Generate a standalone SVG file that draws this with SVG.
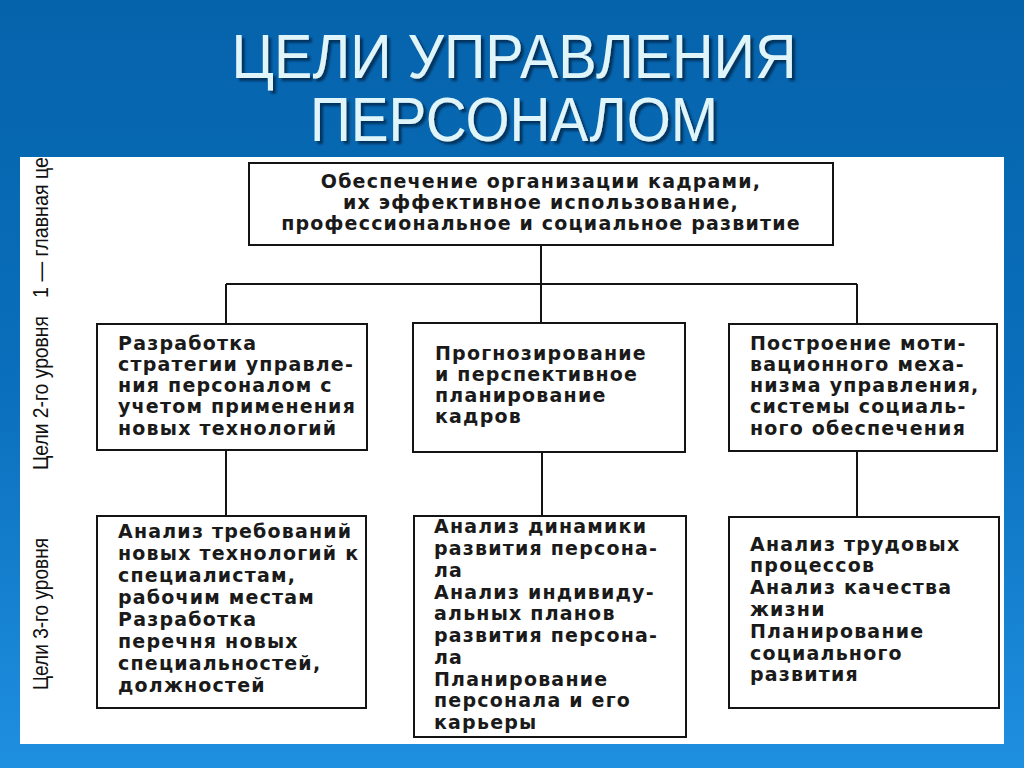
<svg xmlns="http://www.w3.org/2000/svg" width="1024" height="768" viewBox="0 0 1024 768">
<defs>
<linearGradient id="bg" x1="0" y1="0" x2="0" y2="1">
<stop offset="0" stop-color="#0563ab"/>
<stop offset="0.5" stop-color="#0a6fbc"/>
<stop offset="1" stop-color="#1f8fe0"/>
</linearGradient>
<filter id="shadow" x="-5%" y="-20%" width="110%" height="140%">
<feDropShadow dx="3" dy="3" stdDeviation="1" flood-color="#06284a" flood-opacity="0.8"/>
</filter>
<style>
.box{fill:#fff;stroke:#141414;stroke-width:2}
.t{font-family:"DejaVu Sans","Liberation Sans",sans-serif;font-weight:bold;font-size:19px;letter-spacing:1.2px;fill:#1a1a1a}
.c{text-anchor:middle}
.side{font-family:"Liberation Sans",Arial,sans-serif;font-size:22px;fill:#111}
.title{font-family:"Liberation Sans",Arial,sans-serif;font-size:63px;text-anchor:middle;fill:#dff5fa}
.conn{stroke:#141414;stroke-width:2;fill:none}
</style>
</defs>
<rect x="0" y="0" width="1024" height="768" fill="url(#bg)"/>
<g id="title" filter="url(#shadow)">
<text class="title"><tspan x="514" y="78" textLength="565" lengthAdjust="spacingAndGlyphs">ЦЕЛИ УПРАВЛЕНИЯ</tspan><tspan x="514" y="141" textLength="408" lengthAdjust="spacingAndGlyphs">ПЕРСОНАЛОМ</tspan></text>
</g>
<rect x="20" y="157" width="984" height="587" fill="#fff"/>
<g id="side-labels">
<text class="side" transform="translate(48,298) rotate(-90)" textLength="141" lengthAdjust="spacingAndGlyphs">1 — главная це</text>
<text class="side" transform="translate(48,470) rotate(-90)" textLength="154" lengthAdjust="spacingAndGlyphs">Цели 2-го уровня</text>
<text class="side" transform="translate(48,690) rotate(-90)" textLength="152" lengthAdjust="spacingAndGlyphs">Цели 3-го уровня</text>
</g>
<g id="connectors">
<path class="conn" d="M541 245V284M226 284H857M226 284V324M541 284V323M857 284V324"/>
<path class="conn" d="M226 450V516M542 452V516M857 451V517"/>
</g>
<g id="top">
<rect class="box" x="249" y="163" width="584" height="82"/>
<text class="t c" x="541" y="188">Обеспечение организации кадрами,</text>
<text class="t c" x="541" y="209">их эффективное использование,</text>
<text class="t c" x="541" y="230">профессиональное и социальное развитие</text>
</g>
<g id="l2-1">
<rect class="box" x="97" y="324" width="270" height="126"/>
<text class="t" x="118" y="350">Разработка</text>
<text class="t" x="118" y="371">стратегии управле-</text>
<text class="t" x="118" y="392">ния персоналом с</text>
<text class="t" x="118" y="413">учетом применения</text>
<text class="t" x="118" y="435">новых технологий</text>
</g>
<g id="l2-2">
<rect class="box" x="413" y="323" width="272" height="129"/>
<text class="t" x="435" y="360">Прогнозирование</text>
<text class="t" x="435" y="381">и перспективное</text>
<text class="t" x="435" y="402">планирование</text>
<text class="t" x="435" y="423">кадров</text>
</g>
<g id="l2-3">
<rect class="box" x="729" y="324" width="268" height="127"/>
<text class="t" x="750" y="350">Построение моти-</text>
<text class="t" x="750" y="371">вационного меха-</text>
<text class="t" x="750" y="392">низма управления,</text>
<text class="t" x="750" y="413">системы социаль-</text>
<text class="t" x="750" y="435">ного обеспечения</text>
</g>
<g id="l3-1">
<rect class="box" x="97" y="516" width="269" height="192"/>
<text class="t" x="118" y="538">Анализ требований</text>
<text class="t" x="118" y="560">новых технологий к</text>
<text class="t" x="118" y="582">специалистам,</text>
<text class="t" x="118" y="604">рабочим местам</text>
<text class="t" x="118" y="626">Разработка</text>
<text class="t" x="118" y="648">перечня новых</text>
<text class="t" x="118" y="670">специальностей,</text>
<text class="t" x="118" y="692">должностей</text>
</g>
<g id="l3-2">
<rect class="box" x="414" y="516" width="272" height="221"/>
<text class="t" x="434" y="533">Анализ динамики</text>
<text class="t" x="434" y="555">развития персона-</text>
<text class="t" x="434" y="577">ла</text>
<text class="t" x="434" y="599">Анализ индивиду-</text>
<text class="t" x="434" y="620">альных планов</text>
<text class="t" x="434" y="642">развития персона-</text>
<text class="t" x="434" y="664">ла</text>
<text class="t" x="434" y="686">Планирование</text>
<text class="t" x="434" y="707">персонала и его</text>
<text class="t" x="434" y="729">карьеры</text>
</g>
<g id="l3-3">
<rect class="box" x="729" y="517" width="270" height="191"/>
<text class="t" x="750" y="551">Анализ трудовых</text>
<text class="t" x="750" y="572">процессов</text>
<text class="t" x="750" y="594">Анализ качества</text>
<text class="t" x="750" y="616">жизни</text>
<text class="t" x="750" y="638">Планирование</text>
<text class="t" x="750" y="660">социального</text>
<text class="t" x="750" y="681">развития</text>
</g>
</svg>
